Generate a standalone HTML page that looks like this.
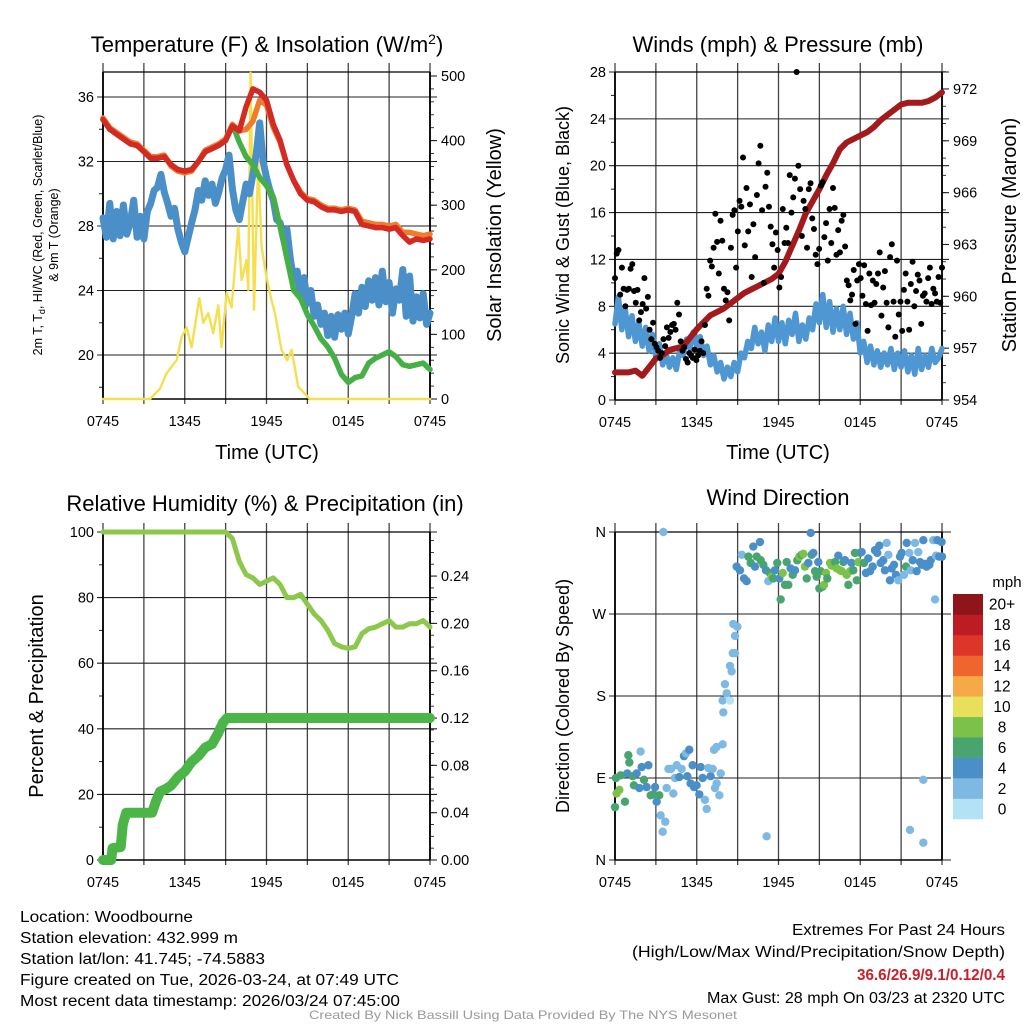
<!DOCTYPE html>
<html><head><meta charset="utf-8">
<style>
html,body{margin:0;padding:0;background:#fff;}
svg{display:block;font-family:"Liberation Sans",Arial,sans-serif;}
</style></head>
<body>
<svg id="fig" xmlns="http://www.w3.org/2000/svg" width="1024" height="1024" viewBox="0 0 1024 1024">
<rect x="0" y="0" width="1024" height="1024" fill="#fff"/>
<text x="267" y="52" font-size="22" text-anchor="middle">Temperature (F) &amp; Insolation (W/m<tspan dy="-8" font-size="14">2</tspan><tspan dy="8">)</tspan></text>
<text x="778" y="52" font-size="22" text-anchor="middle">Winds (mph) &amp; Pressure (mb)</text>
<text x="265" y="511" font-size="22" text-anchor="middle">Relative Humidity (%) &amp; Precipitation (in)</text>
<text x="778" y="505" font-size="22" text-anchor="middle">Wind Direction</text>

<text transform="translate(42,235) rotate(-90)" font-size="12.5" text-anchor="middle">2m T, T<tspan font-size="9" dy="3">d</tspan><tspan dy="-3">, HI/WC (Red, Green, Scarlet/Blue)</tspan></text>
<text transform="translate(58,235) rotate(-90)" font-size="12.5" text-anchor="middle">&amp; 9m T (Orange)</text>
<text transform="translate(501,235) rotate(-90)" font-size="20" text-anchor="middle">Solar Insolation (Yellow)</text>
<text x="267" y="459" font-size="20" text-anchor="middle">Time (UTC)</text>
<text transform="translate(569,235) rotate(-90)" font-size="18" text-anchor="middle">Sonic Wind &amp; Gust (Blue, Black)</text>
<text transform="translate(1016,235) rotate(-90)" font-size="20" text-anchor="middle">Station Pressure (Maroon)</text>
<text x="778" y="459" font-size="20" text-anchor="middle">Time (UTC)</text>
<text transform="translate(43,696) rotate(-90)" font-size="20" text-anchor="middle">Percent &amp; Precipitation</text>
<text transform="translate(569,696) rotate(-90)" font-size="18" text-anchor="middle">Direction (Colored By Speed)</text>

<g id="footer" font-size="15.5">
<text x="20" y="922" textLength="173" lengthAdjust="spacingAndGlyphs">Location: Woodbourne</text>
<text x="20" y="943" textLength="218" lengthAdjust="spacingAndGlyphs">Station elevation: 432.999 m</text>
<text x="20" y="964" textLength="245" lengthAdjust="spacingAndGlyphs">Station lat/lon: 41.745; -74.5883</text>
<text x="20" y="985" textLength="379" lengthAdjust="spacingAndGlyphs">Figure created on Tue, 2026-03-24, at 07:49 UTC</text>
<text x="20" y="1006" textLength="380" lengthAdjust="spacingAndGlyphs">Most recent data timestamp: 2026/03/24 07:45:00</text>
<text x="1005" y="935" text-anchor="end" textLength="213" lengthAdjust="spacingAndGlyphs">Extremes For Past 24 Hours</text>
<text x="1005" y="957" text-anchor="end" textLength="373" lengthAdjust="spacingAndGlyphs">(High/Low/Max Wind/Precipitation/Snow Depth)</text>
<text x="1005" y="980" text-anchor="end" fill="#c8202a" font-weight="bold" textLength="148" lengthAdjust="spacingAndGlyphs">36.6/26.9/9.1/0.12/0.4</text>
<text x="1005" y="1003" text-anchor="end" textLength="298" lengthAdjust="spacingAndGlyphs">Max Gust: 28 mph On 03/23 at 2320 UTC</text>
<text x="309" y="1019" font-size="12" fill="#999" textLength="428" lengthAdjust="spacingAndGlyphs">Created By Nick Bassill Using Data Provided By The NYS Mesonet</text>
</g>
<g id="layer"></g>
</svg>
<script>
// ---------- DATA ----------
const xTickLabels = ["0745","1345","1945","0145","0745"];
const tempRed = [34.6,34.0,33.7,33.4,33.1,33.0,32.6,32.2,32.2,32.3,31.8,31.5,31.4,31.5,32.0,32.6,32.8,33.0,33.3,34.2,33.9,35.4,36.5,36.3,35.8,34.3,33.3,31.8,30.8,30.0,29.6,29.5,29.2,29.0,29.0,28.9,29.0,28.9,28.1,28.0,27.9,27.9,27.8,27.9,27.4,27.0,27.2,27.1,27.2];
const temp9mOrange = [34.7,34.1,33.8,33.5,33.2,33.1,32.7,32.3,32.3,32.4,31.7,31.4,31.3,31.4,32.0,32.7,32.9,33.1,33.4,34.3,33.9,34.0,34.5,35.8,35.5,34.1,33.2,31.8,30.8,30.1,29.7,29.6,29.3,29.1,29.1,29.0,29.1,29.0,28.3,28.2,28.1,28.1,28.0,28.1,27.6,27.6,27.5,27.4,27.5];
const tempGreen = [34.6,34.0,33.7,33.4,33.1,33.0,32.6,32.2,32.2,32.3,31.8,31.5,31.4,31.5,32.0,32.6,32.8,33.0,33.3,34.3,33.2,32.3,31.8,31.0,30.5,29.8,28.0,26.0,24.0,23.5,22.5,21.8,21.0,20.5,19.8,18.8,18.3,18.6,18.7,19.5,19.8,20.0,20.2,19.9,19.4,19.3,19.4,19.5,19.1];
const dewBlue = [28.5,27.3,29.4,27.2,28.9,27.4,29.3,27.5,28.2,29.6,27.3,28.6,27.2,28.9,29.4,30.2,30.4,31.2,30.1,29.4,28.6,29.1,27.8,27.0,26.4,27.3,28.2,29.0,30.2,29.6,30.8,29.9,30.6,29.4,30.1,31.0,31.5,32.4,30.3,29.0,28.4,29.5,30.6,30.0,31.2,32.5,34.4,32.0,31.0,30.2,29.6,28.4,28.2,27.2,27.8,26.0,24.6,25.2,23.6,24.8,23.2,24.0,22.4,23.1,21.9,22.6,21.2,22.4,21.1,22.5,21.6,22.6,21.3,22.4,23.8,22.6,24.2,23.0,24.6,23.4,24.8,23.1,25.2,23.3,24.5,22.6,24.1,23.4,25.3,22.4,24.9,22.1,23.6,22.3,23.8,21.9,22.6];
const solarHours = [0,3.45,4.18,4.67,5.4,5.77,6.14,6.5,7.07,7.36,7.73,8.09,8.46,8.7,9.07,9.44,9.93,10.17,10.54,10.66,10.83,11.08,11.39,11.64,12.0,12.37,12.62,13.1,13.52,13.84,14.33,15.18,24];
const solarWm2 = [0,0,16,40,60,96,111,80,156,118,133,102,145,80,164,142,266,184,215,169,505,138,370,235,189,153,133,76,60,76,19,0,0];
const windSonic = [6.5,8.8,6.0,7.8,5.4,7.2,5.0,6.6,4.6,6.2,4.2,5.6,3.6,4.8,3.0,4.0,2.8,3.6,2.6,4.2,3.8,5.2,4.4,5.8,4.6,5.4,3.8,4.6,3.0,3.8,2.4,3.2,1.8,2.8,2.0,3.2,2.4,4.0,3.6,5.0,4.4,6.2,4.8,5.8,4.2,6.4,5.0,7.0,5.0,6.6,4.8,6.8,5.6,7.4,5.0,6.4,5.2,7.0,6.0,8.2,6.6,9.0,6.2,8.4,5.8,7.8,6.0,8.0,5.6,7.4,5.2,6.6,4.0,5.0,3.2,4.6,3.0,4.2,2.8,4.0,3.0,4.4,2.6,4.0,2.8,4.2,2.4,3.8,2.2,4.4,2.6,3.8,2.8,4.4,3.2,3.6,4.4];
const windGust = [10.4,12.5,12.8,9,11.3,9.5,8,9.4, 9.5,11.2,11.6,9.3,8.3,9.4,6.8,7.5, 8.2,10.4,7.8,8.8,6,5.2,6.6,4.8, 4.5,4.2,3.6,4,5.2,4.6,6.2,5.3, 5.8,6.4,6.5,6,8.3,7.3,5,4.2, 4.5,3.5,3.2,4,3.8,3.6,4.3,3.4, 3.8,4.2,5,4,6.4,9.5,8.9,11.9, 11.4,13,15.9,13.5,10.8,15.3,13.6,9.5, 8.5,9.2,6.8,13,15.8,16.2,11.3,14.4, 17,16.5,20.7,13.2,18.1,14.4,16.7,10.5, 15,12.2,17.5,20.2,21.7,16.2,10,18.2, 19.4,16.5,14.8,13.3,11.3,14.3,12.8,9.6, 10.5,16.3,13.4,14.7,13.4,19.2,16,17.3, 18.9,28,20,18,14,17,16.3,13, 18,18.5,15.5,14.6,12.4,11.6,12.9,18.3, 18.6,13.9,15.1,11.9,16.3,13.4,18.1,16.4, 12.4,14.5,12.6,15.3,15.8,13.1,10.2,9.8, 8.5,9,11.1,6.5,10.2,11.6,10.4,8.9, 11.5,8.2,5.9,10.8,8.1,10.2,8.3,9.9, 10.8,12.6,7.2,9.6,11,8.3,6.2,12.2, 13.3,8.4,5.4,11.9,7.3,8.4,5.9,9.4, 10.8,8.4,6,9.9,11.8,8,9.3,10.7, 10.2,6.5,8.9,9.1,8.4,10.4,11.3,8.2, 9.5,9.1,8.4,10.5,8.3,11.3];
const pressureMb = [955.6,955.6,955.6,955.7,955.4,955.9,956.4,956.6,956.9,957.0,957.1,957.6,958.1,958.5,958.9,959.1,959.3,959.6,959.9,960.2,960.4,960.6,960.8,961.0,961.3,962.0,962.9,963.8,964.8,965.5,966.2,967.0,967.7,968.5,968.9,969.1,969.3,969.5,969.8,970.2,970.5,970.8,971.1,971.2,971.2,971.2,971.3,971.5,971.8];
const relHumidity = [100,100,100,100,100,100,100,100,100,100,100,100,100,100,100,100,100,100,100,98,91,87,86,84,85,86,84,80,80,81,78,75,73,70,66,65,64.5,65,69,70.5,71,72,73,71,71,72,72,73,71];
const precipHours = [0,0.6,0.7,1.3,1.45,1.7,3.6,3.9,4.2,4.6,5.0,5.5,6.0,6.5,7.0,7.5,8.0,8.4,8.8,9.1,24];
const precipInches = [0,0,0.01,0.011,0.03,0.04,0.04,0.05,0.058,0.06,0.063,0.07,0.075,0.083,0.088,0.095,0.098,0.106,0.116,0.12,0.12];
const dirHours = [0,0.12,0.32,0.07,0.42,0.73,0.98,1.05,0.9,1.3,1.39,1.59,1.79,1.88,1.96,2.13,2.32,2.45,2.62,2.81,2.94,3.06,3.25,3.35,3.5,3.69,3.55,
3.79,3.92,4.11,4.28,4.4,4.53,4.72,4.89,5.06,5.21,5.31,5.45,5.55,5.7,5.8,5.99,6.19,6.29,6.43,6.6,6.73,6.85,7.02,7.17,7.34,7.46,7.66,7.76,7.27,7.46,7.9,
7.95,8.07,8.2,7.9,8.44,8.44,8.56,8.64,8.81,8.81,8.68,8.98,
8.93,9.17,9.3,9.47,9.66,9.79,9.96,10.15,10.27,10.4,10.64,10.69,10.89,11.08,11.25,11.37,11.5,11.62,11.74,11.91,12.06,12.16,12.31,12.48,12.6,12.72,12.89,13.04,13.21,13.38,13.53,13.7,13.82,13.94,14.07,14.19,14.36,14.43,14.56,14.68,14.8,14.92,15.0,15.09,15.24,15.34,15.49,15.58,15.78,15.9,16.02,16.15,16.27,16.39,16.51,16.64,16.76,16.88,17.0,17.13,17.25,17.37,17.49,17.61,17.74,17.86,17.98,18.1,18.27,18.42,18.59,18.72,18.91,19.08,19.25,19.4,19.5,19.69,19.81,19.94,20.06,20.18,20.3,20.48,20.62,20.79,20.92,21.04,21.21,21.36,21.41,21.6,21.7,21.85,22.02,22.14,22.26,22.39,22.51,22.63,22.75,22.87,23.07,23.17,23.36,23.49,23.56,23.66,23.8,23.97,24.0,
11.13,21.65,22.63,22.63];
const dirDegrees = [58,73,77,90,93,64,115,107,95,92,82,95,79,119,102,88,80,104,71,72,80,64,71,49,31,42,360,
79,100,100,73,90,104,91,100,114,117,92,121,84,104,80,82,72,102,90,66,56,101,92,100,79,84,71,95,121,124,127,
162,193,183,175,175,213,207,227,227,246,259,256,
322,318,335,309,306,333,326,344,322,333,349,329,324,318,306,315,311,309,318,326,309,286,315,302,327,302,320,313,318,329,333,335,336,322,309,326,359,335,337,317,311,327,298,317,300,302,315,309,326,323,326,327,320,334,318,317,327,329,313,302,317,326,318,337,307,327,337,338,326,315,331,317,322,340,337,345,326,329,318,348,335,307,320,324,313,307,333,337,313,322,348,337,318,329,348,317,338,327,324,351,325,322,324,329,351,286,334,351,333,349,333,
26,33,19,88];
const dirSpeeds = [7,9,9,7,7,7,7,7,5,7,7,5,5,3,5,7,5,5,7,7,5,5,7,3,3,3,3,
3,3,3,3,3,3,5,3,5,3,5,5,5,5,5,5,5,5,5,3,3,3,5,3,3,3,3,3,3,3,3,
3,3,3,3,1,3,3,3,3,3,3,3,
5,5,3,5,5,7,7,5,5,7,5,7,7,5,3,7,9,7,5,7,5,7,9,7,7,7,5,7,5,7,9,7,9,9,7,5,5,7,5,7,7,5,7,7,7,9,9,7,9,9,9,7,9,5,9,9,7,5,9,7,9,5,7,7,7,9,7,5,7,5,5,5,5,5,5,5,5,5,5,3,3,5,5,5,5,3,5,5,3,7,5,3,3,5,3,5,3,5,5,5,5,5,5,5,3,3,3,5,5,5,5,
3,3,3,3];
const colorbarLabels = ["0","2","4","6","8","10","12","14","16","18","20+"];
const colorbarColors = ["#b3e2f5","#7db9e3","#4a8fc7","#48a56f","#7cc24a","#e8e05a","#f5a947","#ef652d","#dd3527","#bd1c24","#8f1518"];

// ---------- HELPERS ----------
const NS="http://www.w3.org/2000/svg";
const layer=document.getElementById('layer');
function mk(tag,attrs,parent){const e=document.createElementNS(NS,tag);for(const k in attrs)e.setAttribute(k,attrs[k]);(parent||layer).appendChild(e);return e;}
function txt(x,y,s,size,anchor,parent){const e=mk('text',{x:x,y:y,'font-size':size,'text-anchor':anchor||'middle'},parent);e.textContent=s;return e;}
function linePath(xs,ys){let d='';for(let i=0;i<xs.length;i++)d+=(i?'L':'M')+xs[i].toFixed(1)+' '+ys[i].toFixed(1);return d;}
function hoursEven(n){const a=[];for(let i=0;i<n;i++)a.push(i*24/(n-1));return a;}

function panel(P){
  const g=mk('g',{});
  
  
  const xs=h=>P.x0+(P.x1-P.x0)*h/24;
  P.xs=xs;
  for(let h=0;h<=24;h+=3){
    const l=mk('line',{x1:xs(h),x2:xs(h),y1:P.top-9,y2:P.bot+5,stroke:'#444','stroke-width':1.3},g);
    
    
  }
  xTickLabels.forEach((s,i)=>{const t=txt(xs(i*6),P.bot+27,s,14.5,'middle',g);
    
    });
  P.leftTicks.forEach((v,i)=>{const y=P.ly(v);
    const l=mk('line',{x1:P.x0-6,x2:P.gridEnd,y1:y,y2:y,stroke:'#222','stroke-width':1.1},g);
    
    
    const t=txt(P.x0-9,y+5,P.leftLabels[i],14.5,'end',g);
    
    });
  (P.leftMinor||[]).forEach(v=>{const y=P.ly(v);mk('line',{x1:P.x0-4,x2:P.x0,y1:y,y2:y,stroke:'#222','stroke-width':1},g);});
  if(P.ry){
    P.rightTicks.forEach((v,i)=>{const y=P.ry(v);
      mk('line',{x1:P.x1,x2:P.x1+7,y1:y,y2:y,stroke:'#222','stroke-width':1.1},g);
      const t=txt(P.x1+11,y+5,P.rightLabels[i],14.5,'start',g);
      
      });
    P.rightMinor.forEach(v=>{const y=P.ry(v);mk('line',{x1:P.x1,x2:P.x1+4,y1:y,y2:y,stroke:'#222','stroke-width':0.9},g);});
  }
  mk('line',{x1:P.x0,x2:P.x0,y1:P.top,y2:P.bot,stroke:'#000','stroke-width':1.8},g);
  mk('line',{x1:P.x1,x2:P.x1,y1:P.top,y2:P.bot,stroke:'#000','stroke-width':1.8},g);
  mk('line',{x1:P.x0,x2:P.x1,y1:P.bot,y2:P.bot,stroke:'#000','stroke-width':1.5},g);
  mk('line',{x1:P.x0,x2:P.x1,y1:P.top,y2:P.top,stroke:'#000','stroke-width':1.2},g);
  return g;
}
function series(g,name,hs,vs,scale,xs,color,w){
  const p=mk('path',{d:linePath(hs.map(xs),vs.map(scale)),fill:'none',stroke:color,'stroke-width':w,'stroke-linejoin':'round','stroke-linecap':'round'},g);
  
  
  return p;
}
function range(a,b,s){const r=[];for(let v=a;v<=b+1e-9;v+=s)r.push(+v.toFixed(4));return r;}

// ---------- TEMPERATURE PANEL ----------
const TL={name:'temperature-panel',x0:103,x1:430,top:72,bot:399,gridEnd:437,
  ly:v=>97+(36-v)*16.125, ry:w=>399-w*0.646,
  leftTicks:[20,24,28,32,36],leftLabels:["20","24","28","32","36"],leftMinor:[18,22,26,30,34],
  rightTicks:[0,100,200,300,400,500],rightLabels:["0","100","200","300","400","500"],rightMinor:range(0,500,20)};
const gTL=panel(TL);
const h49=hoursEven(49), h97=hoursEven(97);
series(gTL,'solar-insolation-line',solarHours,solarWm2,TL.ry,TL.xs,'#f6df4e',2.4);
series(gTL,'dewpoint-line',h97,dewBlue,TL.ly,TL.xs,'#4a8fc7',7);
series(gTL,'wind-chill-line',h49,tempGreen,TL.ly,TL.xs,'#46b046',5.5);
series(gTL,'temperature-9m-line',h49,temp9mOrange,TL.ly,TL.xs,'#f07b2a',5.5);
series(gTL,'temperature-2m-line',h49,tempRed,TL.ly,TL.xs,'#d42a24',5.5);

// ---------- WIND PANEL ----------
const TR={name:'wind-panel',x0:615,x1:942,top:72,bot:400,gridEnd:949,
  ly:v=>400-v*11.714, ry:p=>400-(p-954)*17.28,
  leftTicks:[0,4,8,12,16,20,24,28],leftLabels:["0","4","8","12","16","20","24","28"],leftMinor:range(2,26,4),
  rightTicks:[954,957,960,963,966,969,972],rightLabels:["954","957","960","963","966","969","972"],rightMinor:range(954,973,1)};
const gTR=panel(TR);
series(gTR,'sonic-wind-line',h97,windSonic,TR.ly,TR.xs,'#4f97d2',5.5);
series(gTR,'pressure-line',h49,pressureMb,TR.ry,TR.xs,'#a31a1c',6);
const gh=hoursEven(windGust.length);
windGust.forEach((v,i)=>{
  const c=mk('circle',{cx:TR.xs(gh[i]),cy:TR.ly(v),r:3,fill:'#000'},gTR);
  
  
});

// ---------- HUMIDITY PANEL ----------
const BL={name:'humidity-panel',x0:103,x1:430,top:532,bot:860,gridEnd:437,
  ly:v=>860-v*3.28, ry:p=>860-p*1183,
  leftTicks:[0,20,40,60,80,100],leftLabels:["0","20","40","60","80","100"],leftMinor:[10,30,50,70,90],
  rightTicks:[0,0.04,0.08,0.12,0.16,0.20,0.24],rightLabels:["0.00","0.04","0.08","0.12","0.16","0.20","0.24"],rightMinor:range(0,0.27,0.01)};
const gBL=panel(BL);
series(gBL,'relative-humidity-line',h49,relHumidity,BL.ly,BL.xs,'#8cc84b',5);
series(gBL,'precipitation-line',precipHours,precipInches,BL.ry,BL.xs,'#4cb548',10);

// ---------- DIRECTION PANEL ----------
const BR={name:'wind-direction-panel',x0:615,x1:942,top:532,bot:860,gridEnd:951,
  ly:d=>860-d*0.9111,
  leftTicks:[0,90,180,270,360],leftLabels:["N","E","S","W","N"]};
const gBR=panel(BR);
dirDegrees.forEach((d,i)=>{
  const bin=Math.min(10,Math.floor(dirSpeeds[i]/2));
  const c=mk('circle',{cx:BR.xs(dirHours[i]),cy:BR.ly(d),r:4.2,fill:colorbarColors[bin]},gBR);
  
  
});
const cb=mk('g',{});


const cbTop=594, cbH=225/11;
colorbarColors.forEach((col,i)=>{
  const y=cbTop+(10-i)*cbH;
  const r=mk('rect',{x:953,y:y,width:30,height:cbH+0.3,fill:col},cb);
  
  
  const t=txt(1002,y+cbH/2+5.5,colorbarLabels[i],15.5,'middle',cb);
  
  
});
const mph=txt(1007,587,'mph',15,'middle',cb);


</script>
</body></html>
